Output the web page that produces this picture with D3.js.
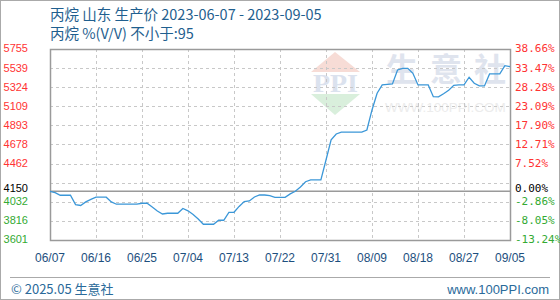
<!DOCTYPE html>
<html>
<head>
<meta charset="utf-8">
<script src="https://cdn.jsdelivr.net/npm/d3@7"></script>
<style>
  body { margin: 0; background: #fff; }
  svg { display: block; }
</style>
</head>
<body>
<svg id="chart"></svg>
<script>
const titleLines = ["丙烷 山东 生产价 2023-06-07 - 2023-09-05", "丙烷 %(V/V)  不小于:95"];
const startDate = "2023-06-07";
const endDate = "2023-09-05";
const basePrice = 4150;

// daily prices (06/07 .. 09/05)
const prices = [
	4150, 4135, 4105, 4105, 4105, 4000, 3990, 4030, 4058, 4083,
	4083, 4083, 4030, 4004, 4004, 4004, 4004, 4004, 4015, 4015,
	3973, 3928, 3894, 3902, 3902, 3902, 3956, 3930, 3889, 3838,
	3778, 3778, 3778, 3823, 3823, 3913, 3913, 3979, 4033, 4041,
	4086, 4108, 4108, 4100, 4082, 4082, 4082, 4120, 4150, 4199,
	4258, 4278, 4278, 4278, 4503, 4729, 4796, 4816, 4816, 4816,
	4816, 4816, 4841, 5067, 5255, 5349, 5355, 5360, 5518, 5537,
	5537, 5480, 5349, 5349, 5349, 5217, 5215, 5250, 5290, 5345,
	5349, 5349, 5436, 5368, 5338, 5338, 5473, 5473, 5473, 5567,
	5555
];

// y grid values and the labels shown on both sides
const gridValues = [3601, 3816, 4032, 4247, 4462, 4678, 4893, 5109, 5324, 5539, 5755];
const leftLabels = ["5755", "5539", "5324", "5109", "4893", "4678", "4462", "4150", "4032", "3816", "3601"];
const rightLabels = ["38.66%", "33.47%", "28.28%", "23.09%", "17.90%", "12.71%", "7.52%", "0.00%", "-2.86%", "-8.05%", "-13.24%"];
const xTickLabels = ["06/07", "06/16", "06/25", "07/04", "07/13", "07/22", "07/31", "08/09", "08/18", "08/27", "09/05"];

const w = 560, h = 300;
const plot = { left: 50, right: 510, top: 49, bottom: 240 };

const svg = d3.select("#chart").attr("width", w).attr("height", h);

// outer frame
svg.append("rect")
	.attr("x", 0.5).attr("y", 0.5)
	.attr("width", w - 1).attr("height", h - 1)
	.attr("fill", "#fff").attr("stroke", "#aaa");

const parse = d3.timeParse("%Y-%m-%d");
const t0 = parse(startDate);
const data = prices.map((p, i) => ({ date: d3.timeDay.offset(t0, i), value: p }));

const xScale = d3.scaleTime()
	.domain([t0, parse(endDate)])
	.range([plot.left, plot.right]);
const yScale = d3.scaleLinear()
	.domain([4150 * (1 - 0.1324), 4150 * 1.3866])
	.range([plot.bottom, plot.top]);

const tickDates = xTickLabels.map((d, i) => d3.timeDay.offset(t0, i * 9));

// watermark
const wm = svg.append("g");
wm.append("polygon")
	.attr("points", "335,52 311,72 360,72")
	.attr("fill", "#f7dcd6");
wm.append("text")
	.attr("x", 313).attr("y", 92)
	.attr("textLength", 45)
	.attr("lengthAdjust", "spacingAndGlyphs")
	.attr("font-family", "Liberation Serif, serif")
	.attr("font-weight", "bold")
	.attr("font-size", 26)
	.attr("fill", "#dbe2ee")
	.text("PPI");
wm.append("polygon")
	.attr("points", "311,94 360,94 335,115")
	.attr("fill", "#d9efdc");
const wmChars = ["生", "意", "社"];
wm.selectAll(".wmc")
	.data(wmChars)
	.enter()
	.append("text")
	.attr("x", (d, i) => 386 + i * 44)
	.attr("y", 81)
	.attr("font-family", "Noto Sans CJK SC")
	.attr("font-weight", "bold")
	.attr("font-size", 32)
	.attr("fill", "#dfe4ee")
	.text((d) => d);
wm.append("text")
	.attr("x", 385).attr("y", 112)
	.attr("font-family", "Liberation Sans, sans-serif")
	.attr("font-size", 13.5)
	.attr("fill", "#ececec")
	.text("WWW.100PPI.COM");

// grid
const grid = svg.append("g").attr("stroke", "#c8c8c8").attr("stroke-dasharray", "3,3");
grid.selectAll(".hgrid")
	.data(gridValues)
	.enter()
	.append("line")
	.attr("x1", plot.left).attr("x2", plot.right)
	.attr("y1", (d) => Math.round(yScale(d)) + 0.5)
	.attr("y2", (d) => Math.round(yScale(d)) + 0.5);
grid.selectAll(".vgrid")
	.data(tickDates)
	.enter()
	.append("line")
	.attr("y1", plot.top).attr("y2", plot.bottom)
	.attr("x1", (d) => Math.round(xScale(d)) + 0.5)
	.attr("x2", (d) => Math.round(xScale(d)) + 0.5);

// base line
svg.append("line")
	.attr("x1", plot.left).attr("x2", plot.right)
	.attr("y1", yScale(basePrice)).attr("y2", yScale(basePrice))
	.attr("stroke", "#9a9a9a").attr("stroke-width", 1.5);

// plot border
svg.append("rect")
	.attr("x", plot.left + 0.5).attr("y", plot.top + 0.5)
	.attr("width", plot.right - plot.left).attr("height", plot.bottom - plot.top)
	.attr("fill", "none").attr("stroke", "#9a9a9a").attr("stroke-width", 1.5);

// line
const line = d3.line()
	.x((d) => xScale(d.date))
	.y((d) => yScale(d.value));
svg.append("path")
	.datum(data)
	.attr("fill", "none")
	.attr("stroke", "#3b97d8")
	.attr("stroke-width", 1.3)
	.attr("d", line);

// y labels: grid positions, except the base price replaces the 4247 line
const labelValues = gridValues.slice().reverse().map((v) => (v === 4247 ? basePrice : v));
const labelColor = (v) => (v > basePrice ? "#ff3333" : v < basePrice ? "#33aa33" : "#000");
const labelY = (v) => yScale(v) + (v === basePrice ? 1 : 3.5);

svg.append("g")
	.selectAll("text")
	.data(labelValues)
	.enter()
	.append("text")
	.attr("x", 28)
	.attr("y", labelY)
	.attr("text-anchor", "end")
	.attr("font-family", "Liberation Sans, sans-serif")
	.attr("font-size", 11)
	.attr("fill", labelColor)
	.text((d, i) => leftLabels[i]);

svg.append("g")
	.selectAll("text")
	.data(labelValues)
	.enter()
	.append("text")
	.attr("x", 515)
	.attr("y", labelY)
	.attr("font-family", "DejaVu Sans Mono, monospace")
	.attr("font-size", 11)
	.attr("fill", labelColor)
	.text((d, i) => rightLabels[i]);

// x labels
svg.append("g")
	.selectAll("text")
	.data(tickDates)
	.enter()
	.append("text")
	.attr("x", (d) => xScale(d))
	.attr("y", 262)
	.attr("text-anchor", "middle")
	.attr("font-family", "Liberation Sans, sans-serif")
	.attr("font-size", 12)
	.attr("fill", "#1d4f7e")
	.text((d, i) => xTickLabels[i]);

// title
svg.append("g")
	.selectAll("text")
	.data(titleLines)
	.enter()
	.append("text")
	.attr("x", 50)
	.attr("y", (d, i) => 20 + i * 19)
	.attr("font-family", "Noto Sans CJK SC")
	.attr("font-size", 14.5)
	.attr("fill", "#1f5f8f")
	.text((d) => d);

// footer
svg.append("line")
	.attr("x1", 10).attr("x2", 550)
	.attr("y1", 277.5).attr("y2", 277.5)
	.attr("stroke", "#aaa");
svg.append("text")
	.attr("x", 11).attr("y", 294)
	.attr("font-family", "Noto Sans CJK SC")
	.attr("font-size", 13)
	.attr("fill", "#2a6a9a")
	.text("© 2025.05 生意社");
svg.append("text")
	.attr("x", 549).attr("y", 294)
	.attr("text-anchor", "end")
	.attr("font-family", "Liberation Sans, sans-serif")
	.attr("font-size", 13)
	.attr("fill", "#2a6a9a")
	.text("www.100PPI.com");
</script>
</body>
</html>
